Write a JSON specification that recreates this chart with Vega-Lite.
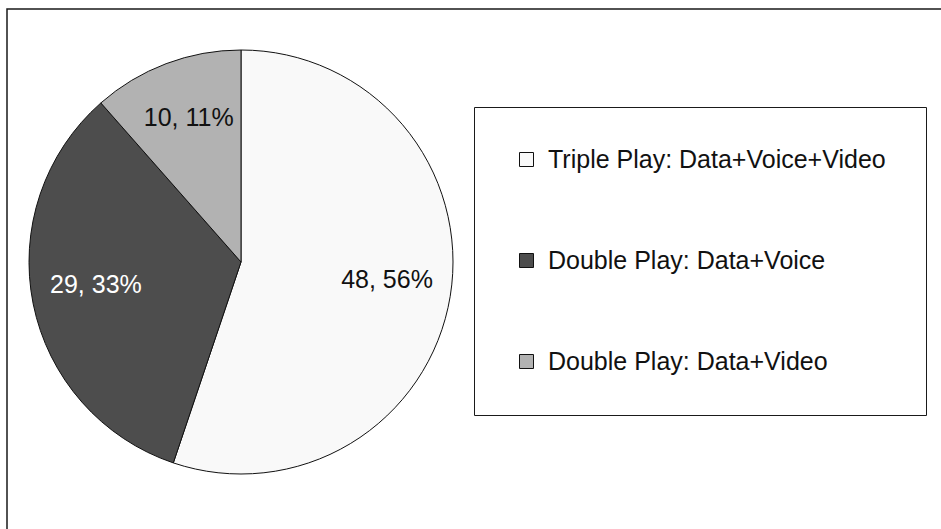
{
  "$schema": "https://vega.github.io/schema/vega-lite/v6.json",
  "width": 941,
  "height": 529,
  "autosize": {"type": "fit", "contains": "padding"},
  "padding": {"left": 7, "top": 9, "right": -6, "bottom": -6},
  "background": "white",
  "config": {
    "view": {"stroke": "#1a1a1a", "strokeWidth": 1.5},
    "font": "Liberation Sans"
  },
  "data": {
    "values": [
      {"category": "Triple Play: Data+Voice+Video", "count": 48, "label": "48, 56%", "rank": 1},
      {"category": "Double Play: Data+Voice", "count": 29, "label": "29, 33%", "rank": 2},
      {"category": "Double Play: Data+Video", "count": 10, "label": "10, 11%", "rank": 3}
    ]
  },
  "encoding": {
    "theta": {"field": "count", "type": "quantitative", "stack": true},
    "order": {"field": "rank", "type": "quantitative"},
    "x": {"value": 234},
    "y": {"value": 253}
  },
  "layer": [
    {
      "mark": {"type": "arc", "outerRadius": 212, "stroke": "#111111", "strokeWidth": 1},
      "encoding": {
        "color": {
          "field": "category",
          "type": "nominal",
          "scale": {
            "domain": ["Triple Play: Data+Voice+Video", "Double Play: Data+Voice", "Double Play: Data+Video"],
            "range": ["#f9f9f9", "#4d4d4d", "#b2b2b2"]
          },
          "legend": {
            "orient": "none",
            "legendX": 467,
            "legendY": 98,
            "title": null,
            "strokeColor": "#1a1a1a",
            "padding": 40,
            "symbolType": "square",
            "symbolSize": 196,
            "symbolStrokeColor": "#111111",
            "symbolStrokeWidth": 1,
            "symbolOpacity": 1,
            "labelFontSize": 25,
            "labelFont": "Liberation Sans",
            "labelLimit": 0,
            "labelOffset": 9,
            "rowPadding": 75,
            "labelColor": "#111111"
          }
        }
      }
    },
    {
      "mark": {"type": "text", "radius": 148, "dy": -6, "fontSize": 25, "font": "Liberation Sans"},
      "encoding": {
        "text": {"field": "label", "type": "nominal"},
        "color": {
          "condition": {"test": "datum.rank === 2", "value": "white"},
          "value": "#111111"
        }
      }
    }
  ]
}
